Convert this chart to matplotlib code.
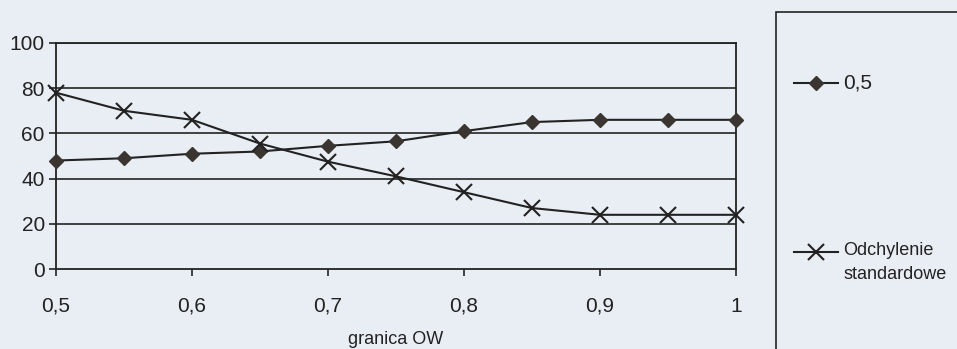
import numpy as np
import matplotlib.pyplot as plt
from matplotlib.patches import Rectangle
from matplotlib.lines import Line2D

plt.rcParams['font.family'] = ['Liberation Sans', 'DejaVu Sans']

# granica OW
prog = [0.5, 0.55, 0.6, 0.65, 0.7, 0.75, 0.8, 0.85, 0.9, 0.95, 1.0]
srednia = [48, 49, 51, 52, 54.5, 56.5, 61, 65, 66, 66, 66]
odchylenie = [78, 70, 66, 55.5, 47.5, 41, 34, 27, 24, 24, 24]

xticks = [0.5, 0.6, 0.7, 0.8, 0.9, 1.0]
xlabels = ['0,5', '0,6', '0,7', '0,8', '0,9', '1']
yticks = [0, 20, 40, 60, 80, 100]

bg = '#e9eef4'
ink = '#222222'
mk = '#3a3530'

fig = plt.figure(figsize=(9.57, 3.49), dpi=100, facecolor=bg)
ax = fig.add_axes([0.0585, 0.229, 0.7105, 0.648])
ax.set_facecolor(bg)

ax.plot(prog, srednia, color=ink, lw=1.5, marker='D', ms=7,
        mfc=mk, mec=mk, clip_on=False, zorder=3)
ax.plot(prog, odchylenie, color=ink, lw=1.5, marker='x', ms=11, mew=1.5,
        clip_on=False, zorder=3)

ax.set_xlim(0.5, 1.0)
ax.set_ylim(0, 100)
ax.set_xticks(xticks)
ax.set_xticklabels(xlabels)
ax.set_yticks(yticks)
for y in yticks[1:]:
    ax.axhline(y, color='#333333', lw=1.3, zorder=1)
ax.tick_params(axis='both', labelsize=15, colors=ink, length=5, width=1.2)
ax.tick_params(axis='x', pad=15)
ax.tick_params(axis='y', pad=3)
for s in ax.spines.values():
    s.set_color(ink)
    s.set_linewidth(1.3)
fig.text(396 / 957, 1 - 340 / 349, 'granica OW', fontsize=13, color=ink,
         ha='center', va='center')

# legend box, drawn by hand so the two-line label sits like the original
fig.add_artist(Rectangle((0.811, -0.01), 0.2, 0.976, transform=fig.transFigure,
                         fill=False, edgecolor=ink, lw=1.2))
x0, x1, xm, xt = 794 / 957, 838 / 957, 816 / 957, 843 / 957
y1 = 1 - 83 / 349
y2 = 1 - 252 / 349
fig.add_artist(Line2D([x0, x1], [y1, y1], color=ink, lw=1.5))
fig.add_artist(Line2D([xm], [y1], marker='D', ms=7, mfc=mk, mec=mk))
fig.text(xt, y1, '0,5', fontsize=15, color=ink, va='center')
fig.add_artist(Line2D([x0, x1], [y2, y2], color=ink, lw=1.5))
fig.add_artist(Line2D([xm], [y2], marker='x', ms=11, mew=1.5, color=ink))
fig.text(xt, y2 + 0.03, 'Odchylenie\nstandardowe', fontsize=13, color=ink,
         va='top', linespacing=1.6)

fig.savefig('out.png', dpi=100, facecolor=bg)
